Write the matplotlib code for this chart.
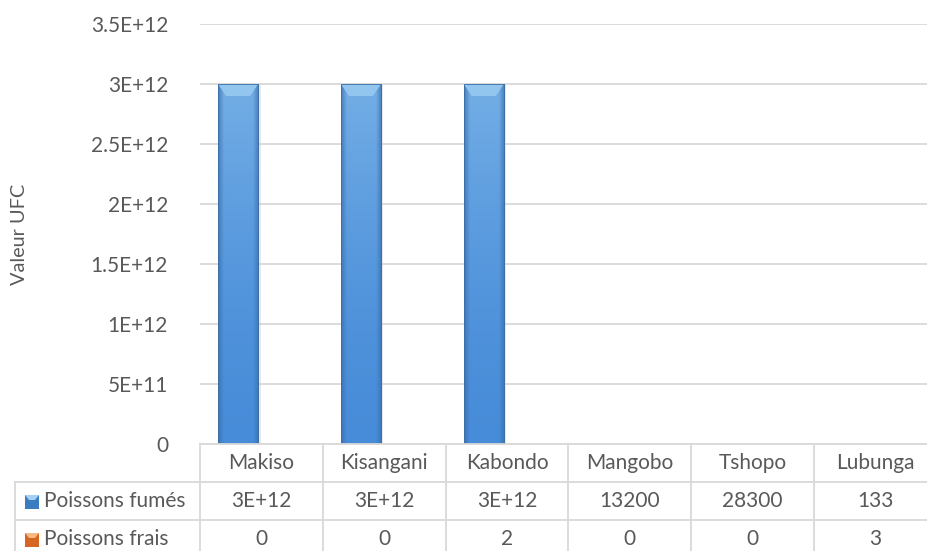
import matplotlib.pyplot as plt
import numpy as np
from matplotlib.patches import Rectangle, Polygon
from matplotlib.lines import Line2D

# DATA
categories = ['Makiso', 'Kisangani', 'Kabondo', 'Mangobo', 'Tshopo', 'Lubunga']
series_names = ['Poissons fumés', 'Poissons frais']
fumes = [3e12, 3e12, 3e12, 13200, 28300, 133]
frais = [0, 0, 2, 0, 0, 3]
fumes_labels = ['3E+12', '3E+12', '3E+12', '13200', '28300', '133']
frais_labels = ['0', '0', '2', '0', '0', '3']
yticks = [0, 0.5e12, 1e12, 1.5e12, 2e12, 2.5e12, 3e12, 3.5e12]
ytick_labels = ['0', '5E+11', '1E+12', '1.5E+12', '2E+12', '2.5E+12', '3E+12', '3.5E+12']

plt.rcParams['font.family'] = ['Lato', 'DejaVu Sans']
txt = '#595959'
grid_c = '#D9D9D9'

W, H = 928, 551
fig = plt.figure(figsize=(W / 100, H / 100), dpi=100)

# plot area in pixels
left_px, right_px = 200, 937
top_px, bot_px = 24, 444


def fx(px):
    return px / W


def fy(py):
    return 1 - py / H


ax = fig.add_axes([fx(left_px), fy(bot_px), fx(right_px - left_px), (bot_px - top_px) / H])
x = np.arange(len(categories))
bw = 0.326
b1 = ax.bar(x - 0.19, fumes, bw, color='#5B9BD5', linewidth=0, zorder=2)
ax.bar(x - 0.19 + bw, frais, bw, color='#ED7D31', linewidth=0, zorder=2)

ax.set_xlim(-0.5, len(categories) - 0.5)
ax.set_ylim(0, 3.5e12)

# bevelled / gradient look for the bars
gx = np.linspace(0, 1, 60)
edge = np.clip(np.minimum(gx, 1 - gx) / 0.14, 0, 1)
gy = np.linspace(0, 1, 100)[:, None]
dark = np.array([0.22, 0.42, 0.66])
body_bot = np.array([0.28, 0.55, 0.85])
body_top = np.array([0.45, 0.68, 0.90])
for rect in b1:
    h = rect.get_height()
    if h < 1e10:
        continue
    x0, wdt = rect.get_x(), rect.get_width()
    # soft shadow
    ax.add_patch(Rectangle((x0 + wdt * 0.04, -0.01e12), wdt * 1.02, h, facecolor='#BFBFBF',
                           alpha=0.35, edgecolor='none', zorder=2.5, clip_on=False))
    body = body_bot + (body_top - body_bot) * gy[..., None] ** 1.5
    img = dark + (body - dark) * (0.3 + 0.7 * edge[None, :, None])
    im = ax.imshow(img, extent=[x0, x0 + wdt, 0, h], origin='lower',
                   aspect='auto', zorder=3, interpolation='bilinear')
    im.set_clip_path(rect)
    d = wdt * 0.2
    hh = 0.1e12
    ax.add_patch(Polygon([[x0, h], [x0 + wdt, h], [x0 + wdt - d, h - hh], [x0 + d, h - hh]],
                         closed=True, facecolor='#93C6EF', edgecolor='none', zorder=4))
    ax.add_patch(Rectangle((x0, 0), wdt, h, fill=False, edgecolor='#3A6EA5',
                           linewidth=0.6, zorder=5))

ax.set_xlim(-0.5, len(categories) - 0.5)
ax.set_ylim(0, 3.5e12)
ax.set_yticks(yticks)
ax.set_yticklabels(ytick_labels)
ax.set_xticks([])
ax.tick_params(axis='y', length=0, pad=23, labelsize=15, labelcolor=txt)
ax.grid(axis='y', color=grid_c, linewidth=1.3, zorder=0)
for s in ax.spines.values():
    s.set_visible(False)
ax.set_ylabel('Valeur UFC', fontsize=14.3, color=txt)
ax.yaxis.set_label_coords(fx(28 - left_px) / fx(right_px - left_px), 0.5)

# data table below the plot
col_w = (right_px - left_px) / len(categories)
row_y = [444, 482, 520, 558]
lines = []
lines.append(([left_px, right_px], [row_y[0], row_y[0]]))
for ry in row_y[1:3]:
    lines.append(([15, right_px], [ry, ry]))
for i in range(len(categories) + 1):
    cx = left_px + i * col_w
    lines.append(([cx, cx], [row_y[0], H + 5]))
lines.append(([15, 15], [row_y[1], H + 5]))
for xs, ys in lines:
    fig.add_artist(Line2D([fx(v) for v in xs], [fy(v) for v in ys],
                          color=grid_c, linewidth=1.3))

fs = 15
for i, cat in enumerate(categories):
    cx = left_px + (i + 0.5) * col_w
    fig.text(fx(cx), fy((row_y[0] + row_y[1]) / 2), cat, ha='center', va='center',
             fontsize=fs, color=txt)
    fig.text(fx(cx), fy((row_y[1] + row_y[2]) / 2), fumes_labels[i], ha='center',
             va='center', fontsize=fs, color=txt)
    fig.text(fx(cx), fy((row_y[2] + row_y[3]) / 2), frais_labels[i], ha='center',
             va='center', fontsize=fs, color=txt)

key_cols = [('#3E7CC2', '#A4D0F4'), ('#D5661F', '#F8B884')]
for k, name in enumerate(series_names):
    cy = (row_y[k + 1] + row_y[k + 2]) / 2 + 1
    dk, lt = key_cols[k]
    fig.add_artist(Rectangle((fx(25), fy(cy + 7)), fx(14), 14 / H, facecolor=dk,
                             edgecolor='none'))
    fig.add_artist(Polygon([[fx(25), fy(cy - 7)], [fx(39), fy(cy - 7)], [fx(35), fy(cy - 2)],
                            [fx(29), fy(cy - 2)]], closed=True, facecolor=lt, edgecolor='none'))
    fig.text(fx(44), fy(cy - 1), name, ha='left', va='center', fontsize=fs, color=txt)

fig.savefig('out.png', dpi=100)
